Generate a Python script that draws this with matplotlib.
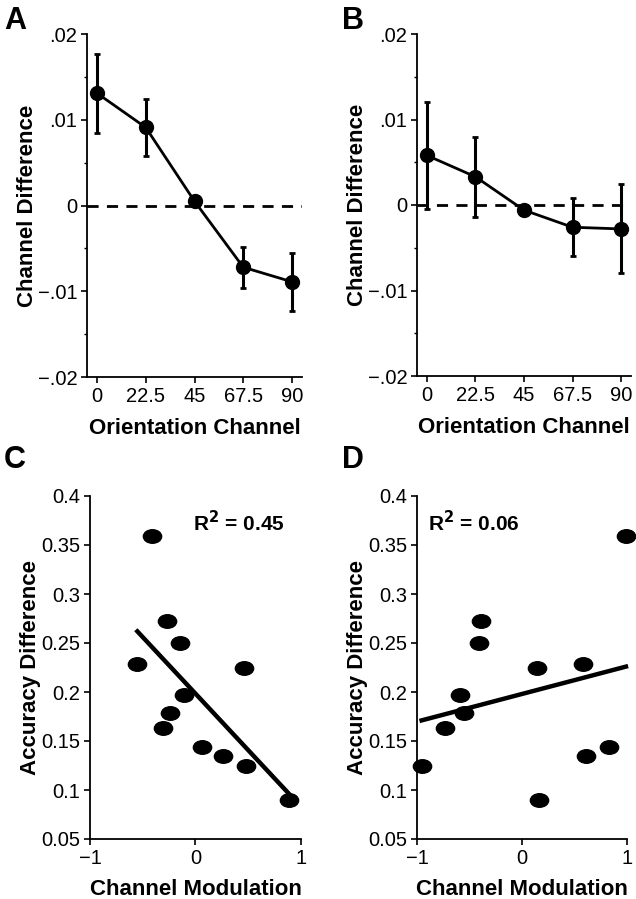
import numpy as np
import matplotlib
matplotlib.use("Agg")
import matplotlib.pyplot as plt
from matplotlib.markers import MarkerStyle
from matplotlib.transforms import Affine2D

plt.rcParams['font.family'] = ['Liberation Sans', 'DejaVu Sans']

# ---- data ----
channels = [0, 22.5, 45, 67.5, 90]
channel_labels = ["0", "22.5", "45", "67.5", "90"]
diff_A = [0.0131, 0.0091, 0.0005, -0.0072, -0.0089]
err_A = [0.0046, 0.0033, 0.0004, 0.0024, 0.0034]
diff_B = [0.0058, 0.0033, -0.0006, -0.0026, -0.0028]
err_B = [0.0063, 0.0047, 0.0004, 0.0034, 0.0052]
ab_yticks = [0.02, 0.01, 0.0, -0.01, -0.02]
ab_ylabels = [".02", ".01", "0", "\u2212.01", "\u2212.02"]

accuracy = [0.359, 0.229, 0.272, 0.2505, 0.1965, 0.179, 0.163, 0.144, 0.135, 0.125, 0.224, 0.090]
mod_C = [-0.415, -0.551, -0.273, -0.147, -0.106, -0.242, -0.305, 0.058, 0.264, 0.479, 0.46, 0.889]
mod_D = [0.99, 0.584, -0.39, -0.413, -0.587, -0.556, -0.73, 0.825, 0.61, -0.956, 0.143, 0.165]
cd_yticks = [0.05, 0.1, 0.15, 0.2, 0.25, 0.3, 0.35, 0.4]
cd_ylabels = ["0.05", "0.1", "0.15", "0.2", "0.25", "0.3", "0.35", "0.4"]
cd_xticks = [-1, 0, 1]
cd_xlabels = ["\u22121", "0", "1"]
r2_C = "R$^{\\mathbf{2}}$ = 0.45"
r2_D = "R$^{\\mathbf{2}}$ = 0.06"

W, H = 636, 899
fig = plt.figure(figsize=(W / 100, H / 100), dpi=100)

def ax_px(l, t, r, b):
    return fig.add_axes([l / W, 1 - b / H, (r - l) / W, (b - t) / H])

tick_fs = 14.5
lab_fs = 16

def style(ax):
    for s in ['top', 'right']:
        ax.spines[s].set_visible(False)
    for s in ['left', 'bottom']:
        ax.spines[s].set_linewidth(1.3)
    ax.tick_params(direction='out', length=4, width=1.2, labelsize=tick_fs, pad=3)
    ax.tick_params(which='minor', direction='out', length=2.5, width=1.0)

def line_panel(ax, y, e):
    ax.axhline(0, color='black', lw=2, ls=(0, (4, 3)), zorder=1)
    ax.errorbar(channels, y, yerr=e, color='black', lw=2, elinewidth=2.2,
                capsize=2.5, capthick=2, marker='o', markersize=10, zorder=3)
    ax.set_xlim(-4.6, 94.6)
    ax.set_ylim(-0.02, 0.02)
    ax.set_xticks(channels)
    ax.set_xticklabels(channel_labels)
    ax.set_yticks(ab_yticks)
    ax.set_yticklabels(ab_ylabels)
    ax.set_yticks(np.arange(-0.015, 0.02, 0.01), minor=True)
    ax.set_ylabel("Channel Difference", fontsize=lab_fs, fontweight='bold', labelpad=0)
    ax.set_xlabel("Orientation Channel", fontsize=lab_fs, fontweight='bold', labelpad=9)
    style(ax)

ell = MarkerStyle('o', transform=Affine2D().scale(1.35, 1.0))

def scatter_panel(ax, x, y, txt, tx):
    ax.scatter(x, y, marker=ell, s=95, color='black', zorder=3, clip_on=False)
    k, b0 = np.polyfit(x, y, 1)
    xs = np.array([min(x), max(x)])
    ax.plot(xs, k * xs + b0, color='black', lw=3.2, zorder=2, clip_on=False)
    ax.set_xlim(-1, 1)
    ax.set_ylim(0.05, 0.4)
    ax.set_xticks(cd_xticks)
    ax.set_xticklabels(cd_xlabels)
    ax.set_yticks(cd_yticks)
    ax.set_yticklabels(cd_ylabels)
    ax.set_ylabel("Accuracy Difference", fontsize=lab_fs, fontweight='bold', labelpad=0)
    ax.set_xlabel("Channel Modulation", fontsize=lab_fs, fontweight='bold', labelpad=8)
    ax.text(tx, 0.373, txt, fontsize=15, fontweight='bold', ha='left', va='center')
    style(ax)

axA = ax_px(87, 34, 302, 377)
line_panel(axA, diff_A, err_A)
axB = ax_px(417, 34, 631, 376)
line_panel(axB, diff_B, err_B)
axC = ax_px(90, 496, 301, 839)
scatter_panel(axC, mod_C, accuracy, r2_C, -0.02)
axD = ax_px(417, 496, 627, 839)
scatter_panel(axD, mod_D, accuracy, r2_D, -0.9)

for lbl, x, y in [("A", 4, 29), ("B", 342, 29), ("C", 4, 468), ("D", 342, 468)]:
    fig.text(x / W, 1 - y / H, lbl, fontsize=22, fontweight='bold', ha='left', va='baseline')

fig.savefig("out.png", dpi=100)
